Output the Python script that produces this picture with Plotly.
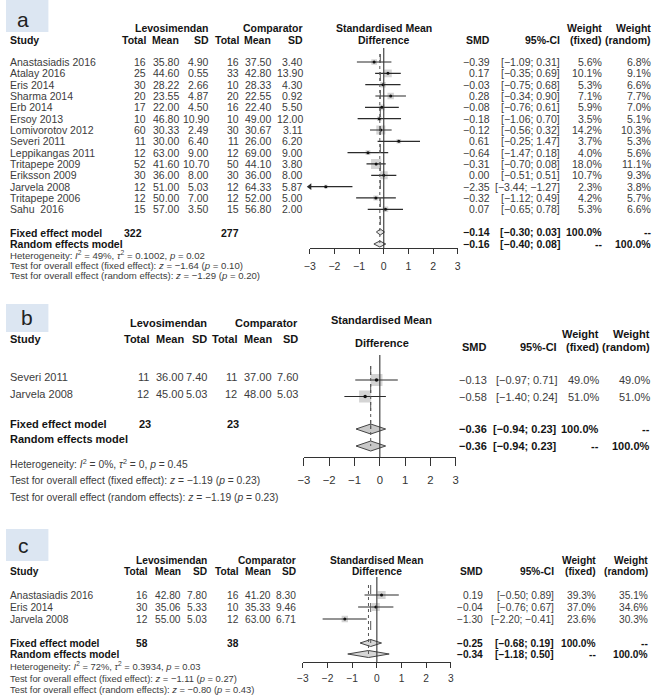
import plotly.graph_objects as go

W, H = 658, 696
MINUS = "\u2212"

# ---------------- data: panel a ----------------
studies_a = ["Anastasiadis 2016", "Atalay 2016", "Eris 2014", "Sharma 2014", "Erb 2014",
             "Ersoy 2013", "Lomivorotov 2012", "Severi 2011", "Leppikangas 2011",
             "Tritapepe 2009", "Eriksson 2009", "Jarvela 2008", "Tritapepe 2006", "Sahu\u00a0 2016"]
lev_n_a = [16, 25, 30, 20, 17, 10, 60, 11, 12, 52, 30, 12, 12, 15]
lev_mean_a = [35.80, 44.60, 28.22, 23.55, 22.00, 46.80, 30.33, 30.00, 63.00, 41.60, 36.00, 51.00, 50.00, 57.00]
lev_sd_a = [4.90, 0.55, 2.66, 4.87, 4.50, 10.90, 2.49, 6.40, 9.00, 10.70, 8.00, 5.03, 7.00, 3.50]
cmp_n_a = [16, 33, 10, 20, 16, 10, 30, 11, 12, 50, 30, 12, 12, 15]
cmp_mean_a = [37.50, 42.80, 28.33, 22.55, 22.40, 49.00, 30.67, 26.00, 69.00, 44.10, 36.00, 64.33, 52.00, 56.80]
cmp_sd_a = [3.40, 13.90, 4.30, 0.92, 5.50, 12.00, 3.11, 6.20, 9.00, 3.80, 8.00, 5.87, 5.00, 2.00]
smd_a = [-0.39, 0.17, -0.03, 0.28, -0.08, -0.18, -0.12, 0.61, -0.64, -0.31, 0.00, -2.35, -0.32, 0.07]
lo_a = [-1.09, -0.35, -0.75, -0.34, -0.76, -1.06, -0.56, -0.25, -1.47, -0.70, -0.51, -3.44, -1.12, -0.65]
hi_a = [0.31, 0.69, 0.68, 0.90, 0.61, 0.70, 0.32, 1.47, 0.18, 0.08, 0.51, -1.27, 0.49, 0.78]
wfix_a = [5.6, 10.1, 5.3, 7.1, 5.9, 3.5, 14.2, 3.7, 4.0, 18.0, 10.7, 2.3, 4.2, 5.3]
wran_a = [6.8, 9.1, 6.6, 7.7, 7.0, 5.1, 10.3, 5.3, 5.6, 11.1, 9.3, 3.8, 5.7, 6.6]
totals_a = [322, 277]
fixed_a = [-0.14, -0.30, 0.03]
random_a = [-0.16, -0.40, 0.08]
i2_a, tau2_a, phet_a = "49%", "0.1002", "0.02"
zfix_a, pfix_a, zran_a, pran_a = -1.64, "0.10", -1.29, "0.20"

# ---------------- data: panel b ----------------
studies_b = ["Severi 2011", "Jarvela 2008"]
lev_n_b = [11, 12]
lev_mean_b = [36.00, 45.00]
lev_sd_b = [7.40, 5.03]
cmp_n_b = [11, 12]
cmp_mean_b = [37.00, 48.00]
cmp_sd_b = [7.60, 5.03]
smd_b = [-0.13, -0.58]
lo_b = [-0.97, -1.40]
hi_b = [0.71, 0.24]
wfix_b = [49.0, 51.0]
wran_b = [49.0, 51.0]
totals_b = [23, 23]
fixed_b = [-0.36, -0.94, 0.23]
random_b = [-0.36, -0.94, 0.23]
i2_b, tau2_b, phet_b = "0%", "0", "0.45"
zfix_b, pfix_b, zran_b, pran_b = -1.19, "0.23", -1.19, "0.23"

# ---------------- data: panel c ----------------
studies_c = ["Anastasiadis 2016", "Eris 2014", "Jarvela 2008"]
lev_n_c = [16, 30, 12]
lev_mean_c = [42.80, 35.06, 55.00]
lev_sd_c = [7.80, 5.33, 5.03]
cmp_n_c = [16, 10, 12]
cmp_mean_c = [41.20, 35.33, 63.00]
cmp_sd_c = [8.30, 9.46, 6.71]
smd_c = [0.19, -0.04, -1.30]
lo_c = [-0.50, -0.76, -2.20]
hi_c = [0.89, 0.67, -0.41]
wfix_c = [39.3, 37.0, 23.6]
wran_c = [35.1, 34.6, 30.3]
totals_c = [58, 38]
fixed_c = [-0.25, -0.68, 0.19]
random_c = [-0.34, -1.18, 0.50]
i2_c, tau2_c, phet_c = "72%", "0.3934", "0.03"
zfix_c, pfix_c, zran_c, pran_c = -1.11, "0.27", -0.80, "0.43"

axis_ticks = [-3, -2, -1, 0, 1, 2, 3]
panel_labels = ["a", "b", "c"]

ARIAL = "Liberation Sans, Arial, sans-serif"
DATA_COL = "#3c3c3c"
HEAD_COL = "#141414"


def f2(v):
    s = f"{abs(v):.2f}"
    return (MINUS + s) if v < 0 else s


def ci(lo, hi):
    return f"[{f2(lo)}; {f2(hi)}]"


fig = go.Figure()
annotations = []
shapes = []


def T(x, y, s, anchor, fam, size, bold=False, color=None):
    annotations.append(dict(
        x=x / W, y=y, xref="paper", yref="y", text=(f"<b>{s}</b>" if bold else s),
        showarrow=False, xanchor=anchor, yanchor="middle", borderpad=0,
        font=dict(family=fam, size=size, color=color or (HEAD_COL if bold else DATA_COL))))


def panel(P):
    fam, fs, c = P["family"], P["size"], P["cols"]
    xa = P["xaxis"]
    # label box
    bx = P["box"]
    shapes.append(dict(type="rect", xref="paper", yref="y", x0=0, x1=bx[1] / W, y0=bx[0], y1=bx[2],
                       fillcolor="#dce6f2", line=dict(width=0), layer="below"))
    T(P["lab_xy"][0], P["lab_xy"][1], P["label"], "center", ARIAL, 21, color="#222")
    # headers (left)
    h1, h2 = P["hl"]
    T(c["ls"], h1, "Levosimendan", "right", fam, fs, True)
    T(c["cs"], h1, "Comparator", "right", fam, fs, True)
    T(c["study"], h2, "Study", "left", fam, fs, True)
    for key, lab in [("lt", "Total"), ("lm", "Mean"), ("ls", "SD"), ("ct", "Total"), ("cm", "Mean"), ("cs", "SD")]:
        T(c[key], h2, lab, "right", fam, fs, True)
    # headers (right)
    r = P["hr"]
    T(c["plot"], r["sm1"], "Standardised Mean", "center", fam, fs, True)
    T(c["plot"], r["sm2"], "Difference", "center", fam, fs, True)
    T(c["smd"], r["h2"], "SMD", "right", fam, fs, True)
    T(c["ci"], r["h2"], "95%-CI", "right", fam, fs, True)
    T(c["wf"], r["w1"], "Weight", "right", fam, fs, True)
    T(c["wf"], r["h2"], "(fixed)", "right", fam, fs, True)
    T(c["wr"], r["w1"], "Weight", "right", fam, fs, True)
    T(c["wr"], r["h2"], "(random)", "right", fam, fs, True)

    rows = P["rows"]
    dyl = P["left_dy"]
    for i, name in enumerate(P["study"]):
        y = rows[i]
        yl = y + dyl
        T(c["study"], yl, name, "left", fam, fs)
        T(c["lt"], yl, str(P["lev_n"][i]), "right", fam, fs)
        T(c["lm"], yl, f"{P['lev_mean'][i]:.2f}", "right", fam, fs)
        T(c["ls"], yl, f"{P['lev_sd'][i]:.2f}", "right", fam, fs)
        T(c["ct"], yl, str(P["cmp_n"][i]), "right", fam, fs)
        T(c["cm"], yl, f"{P['cmp_mean'][i]:.2f}", "right", fam, fs)
        T(c["cs"], yl, f"{P['cmp_sd'][i]:.2f}", "right", fam, fs)
        T(c["smd"], y, f2(P["smd"][i]), "right", fam, fs)
        T(c["ci"], y, ci(P["lo"][i], P["hi"][i]), "right", fam, fs)
        T(c["wf"], y, f"{P['wfix'][i]:.1f}%", "right", fam, fs)
        T(c["wr"], y, f"{P['wran'][i]:.1f}%", "right", fam, fs)

    yf, yr = P["sum_y"]
    yfl, yrl = P["sum_yl"]
    T(c["study"], yfl, "Fixed effect model", "left", fam, fs, True)
    T(c["tot_l"], yfl, str(P["totals"][0]), "right", fam, fs, True)
    T(c["tot_c"], yfl, str(P["totals"][1]), "right", fam, fs, True)
    T(c["study"], yrl, "Random effects model", "left", fam, fs, True)
    fx, rx = P["fixed"], P["random"]
    T(c["smd"], yf, f2(fx[0]), "right", fam, fs, True)
    T(c["ci"], yf, ci(fx[1], fx[2]), "right", fam, fs, True)
    T(c["wf"], yf, "100.0%", "right", fam, fs, True)
    T(c["wr"], yf, "--", "right", fam, fs, True)
    T(c["smd"], yr, f2(rx[0]), "right", fam, fs, True)
    T(c["ci"], yr, ci(rx[1], rx[2]), "right", fam, fs, True)
    T(c["wf"], yr, "--", "right", fam, fs, True)
    T(c["wr"], yr, "100.0%", "right", fam, fs, True)

    hy = P["foot_y"]
    fsz = P["foot_size"]
    i2, tau2, ph = P["het"]
    T(c["study"], hy[0], f"Heterogeneity: <i>I</i><sup>2</sup> = {i2}, <i>\u03c4</i><sup>2</sup> = {tau2}, <i>p</i> = {ph}",
      "left", fam, fsz)
    zf, pf, zr, pr = P["tests"]
    T(c["study"], hy[1], f"Test for overall effect (fixed effect): <i>z</i> = {f2(zf)} (<i>p</i> = {pf})", "left", fam, fsz)
    T(c["study"], hy[2], f"Test for overall effect (random effects): <i>z</i> = {f2(zr)} (<i>p</i> = {pr})", "left", fam, fsz)

    # ---- graphical part ----
    vl = P["vlines"]
    shapes.append(dict(type="line", xref=xa, yref="y", x0=0, x1=0, y0=vl["zero"][0], y1=vl["zero"][1],
                       line=dict(color="#333", width=1.1)))
    shapes.append(dict(type="line", xref=xa, yref="y", x0=fx[0], x1=fx[0], y0=vl["top"], y1=yf,
                       line=dict(color="#555", width=1, dash="dash")))
    shapes.append(dict(type="line", xref=xa, yref="y", x0=rx[0], x1=rx[0], y0=vl["top"], y1=yr,
                       line=dict(color="#555", width=1, dash="dot")))

    xs, ys = [], []
    for i in range(len(P["study"])):
        xs += [P["lo"][i], P["hi"][i], None]
        ys += [rows[i], rows[i], None]
    sq = [P["sq_k"] * (w ** 0.5) for w in P["wfix"]]
    fig.add_trace(go.Scatter(x=P["smd"], y=rows[:len(P["smd"])], mode="markers", xaxis=xa, yaxis="y",
                             marker=dict(symbol="square", size=sq, color="#c2c2c2", line=dict(width=0)),
                             hoverinfo="skip", showlegend=False))
    fig.add_trace(go.Scatter(x=xs, y=ys, mode="lines", xaxis=xa, yaxis="y",
                             line=dict(color="#2b2b2b", width=1.2), hoverinfo="skip", showlegend=False))
    fig.add_trace(go.Scatter(x=P["smd"], y=rows[:len(P["smd"])], mode="markers", xaxis=xa, yaxis="y",
                             marker=dict(symbol="circle", size=P["dot"], color="#111"),
                             hoverinfo="skip", showlegend=False))
    dh = P["dia_h"]
    for (est, lo, hi), yy in [(fx, yf), (rx, yr)]:
        fig.add_trace(go.Scatter(x=[lo, est, hi, est, lo], y=[yy, yy - dh, yy, yy + dh, yy], mode="lines",
                                 fill="toself", fillcolor=P["dia_fill"], xaxis=xa, yaxis="y",
                                 line=dict(color="#444", width=1), hoverinfo="skip", showlegend=False))
    # arrow heads for CIs that run past the axis range
    ax_x = [axis_ticks[0] for i in range(len(P["study"])) if P["lo"][i] < axis_ticks[0]]
    ax_y = [rows[i] for i in range(len(P["study"])) if P["lo"][i] < axis_ticks[0]]
    if ax_x:
        fig.add_trace(go.Scatter(x=ax_x, y=ax_y, mode="markers", xaxis=xa, yaxis="y", cliponaxis=False,
                                 marker=dict(symbol="triangle-left", size=6, color="#2b2b2b"),
                                 hoverinfo="skip", showlegend=False))


PA = dict(label=panel_labels[0], box=(0, 43, 32), lab_xy=(17.5, 19), xaxis="x",
          family=ARIAL, size=10.5, foot_size=9.6,
          cols=dict(study=3, lt=143, lm=176, ls=207, ct=237, cm=270, cs=302, tot_l=139, tot_c=237,
                    plot=383, smd=492, ci=563, wf=605, wr=655),
          hl=(28, 40), hr=dict(sm1=28, sm2=40, h2=40, w1=28),
          rows=[62 + 11.33 * i for i in range(len(studies_a))], left_dy=0,
          study=studies_a, lev_n=lev_n_a, lev_mean=lev_mean_a, lev_sd=lev_sd_a,
          cmp_n=cmp_n_a, cmp_mean=cmp_mean_a, cmp_sd=cmp_sd_a, smd=smd_a, lo=lo_a, hi=hi_a,
          wfix=wfix_a, wran=wran_a, totals=totals_a, fixed=fixed_a, random=random_a,
          het=(i2_a, tau2_a, phet_a), tests=(zfix_a, pfix_a, zran_a, pran_a),
          sum_y=(232, 244), sum_yl=(233, 244), foot_y=(255, 265, 275),
          vlines=dict(zero=(48, 248), top=54), sq_k=2.4, dot=3, dia_h=3, dia_fill="#e6e6e6")

PB = dict(label=panel_labels[1], box=(304, 43, 332), lab_xy=(21, 317), xaxis="x2",
          family=ARIAL, size=11, foot_size=10.3,
          cols=dict(study=3, lt=146, lm=181, ls=205, ct=235, cm=271, cs=297, tot_l=148, tot_c=237,
                    plot=381, smd=489, ci=560, wf=602, wr=654),
          hl=(323, 339), hr=dict(sm1=320, sm2=343, h2=347, w1=334),
          rows=[380, 396.5], left_dy=-3,
          study=studies_b, lev_n=lev_n_b, lev_mean=lev_mean_b, lev_sd=lev_sd_b,
          cmp_n=cmp_n_b, cmp_mean=cmp_mean_b, cmp_sd=cmp_sd_b, smd=smd_b, lo=lo_b, hi=hi_b,
          wfix=wfix_b, wran=wran_b, totals=totals_b, fixed=fixed_b, random=random_b,
          het=(i2_b, tau2_b, phet_b), tests=(zfix_b, pfix_b, zran_b, pran_b),
          sum_y=(429, 446), sum_yl=(424, 439), foot_y=(463, 480, 497),
          vlines=dict(zero=(355, 457), top=366), sq_k=1.7, dot=3.5, dia_h=5, dia_fill="#c8c8c8")

PC = dict(label=panel_labels[2], box=(529, 43, 561), lab_xy=(18, 545), xaxis="x3",
          family=ARIAL, size=10.2, foot_size=9.4,
          cols=dict(study=3, lt=145, lm=178, ls=205, ct=237, cm=270, cs=295, tot_l=145, tot_c=237,
                    plot=376, smd=485, ci=557, wf=599, wr=652),
          hl=(560, 571), hr=dict(sm1=560, sm2=571, h2=571, w1=560),
          rows=[595, 607, 619], left_dy=0,
          study=studies_c, lev_n=lev_n_c, lev_mean=lev_mean_c, lev_sd=lev_sd_c,
          cmp_n=cmp_n_c, cmp_mean=cmp_mean_c, cmp_sd=cmp_sd_c, smd=smd_c, lo=lo_c, hi=hi_c,
          wfix=wfix_c, wran=wran_c, totals=totals_c, fixed=fixed_c, random=random_c,
          het=(i2_c, tau2_c, phet_c), tests=(zfix_c, pfix_c, zran_c, pran_c),
          sum_y=(643, 654), sum_yl=(643, 654), foot_y=(666, 678, 689),
          vlines=dict(zero=(577, 662), top=585), sq_k=1.3, dot=3, dia_h=3.5, dia_fill="#d6d6d6")

for P in (PA, PB, PC):
    panel(P)


def xaxis(px0, px1, liney, ticklen, fam, size, standoff):
    return dict(domain=[px0 / W, px1 / W], range=[axis_ticks[0], axis_ticks[-1]], anchor="free",
                position=1 - liney / H, showline=True, linecolor="#333", linewidth=1.1,
                ticks="outside", ticklen=ticklen, tickwidth=1.1, tickcolor="#333",
                tickvals=axis_ticks, ticktext=[f2(t).replace(".00", "") if t else "0" for t in axis_ticks],
                tickfont=dict(family=fam, size=size, color="#333"), ticklabelstandoff=standoff,
                showgrid=False, zeroline=False, fixedrange=True)


fig.update_layout(
    width=W, height=H, autosize=False,
    margin=dict(l=0, r=0, t=0, b=0, pad=0),
    paper_bgcolor="white", plot_bgcolor="rgba(0,0,0,0)",
    showlegend=False,
    xaxis=xaxis(308, 458, 248, 5, ARIAL, 10.5, 3),
    xaxis2=xaxis(302, 456, 457, 8, ARIAL, 11.3, 4),
    xaxis3=xaxis(301, 451, 662, 5, ARIAL, 10.2, 2),
    yaxis=dict(domain=[0, 1], range=[H, 0], visible=False, fixedrange=True, showgrid=False, zeroline=False),
    annotations=annotations, shapes=shapes,
)

fig.write_html("out.html", config={"displayModeBar": False},
               post_script="document.body.style.margin='0px';document.body.style.overflow='hidden';")
